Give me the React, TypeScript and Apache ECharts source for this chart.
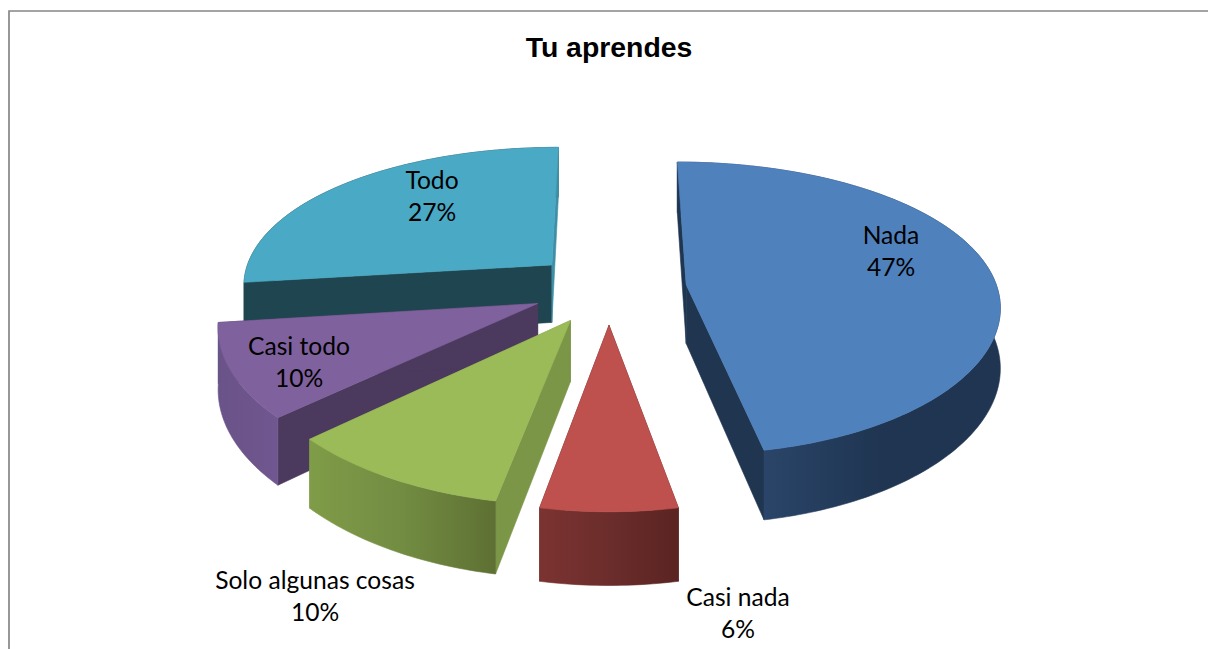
import React, { useEffect, useRef } from "react";
import * as echarts from "echarts";

const TITLE = "Tu aprendes";
const CATEGORIES = ["Nada", "Casi nada", "Solo algunas cosas", "Casi todo", "Todo"];
const PERCENTS = [47, 6, 10, 10, 27];

const TOP_COLORS = ["#4F81BD", "#BE514E", "#9BBB59", "#7F619D", "#4AA9C4"];
const START_WALL = ["#1F3550", "#5A2422", "#7C9648", "#4B3A5E", "#1F4650"];
const END_WALL = ["#1F3550", "#5A2422", "#7C9648", "#4B3A5E", "#3E8FA6"];
const OUTER_LEFT = ["#2A4569", "#7B3331", "#7F9C48", "#6A5389", "#1F4650"];
const OUTER_MID = ["#1F3551", "#6B2D2B", "#728C42", "#6D558C", "#1F4650"];
const OUTER_RIGHT = ["#1F3551", "#5A2422", "#5E7033", "#70578F", "#1F4650"];
const Z_RANK = [1, 4, 3, 2, 0];
const LABEL_X = [891, 738, 315, 299, 432];
const LABEL_Y = [250, 612, 595, 361, 195];

const CX = 609;
const VANISH_Y = -607;
const HEIGHT_TOP = 895;
const DEPTH = 59;
const RADIUS_X = 311;
const PERSPECTIVE_Y = 0.16;
const PERSPECTIVE_X = 0.13;
const EXPLODE = 0.25;

export default function App() {
  const ref = useRef<HTMLDivElement>(null);
  useEffect(() => {
    const chart = echarts.init(ref.current!, undefined, { renderer: "svg" });
    const total = PERCENTS.reduce((a, b) => a + b, 0);

    const renderItem = (params: any, api: any) => {
      const i = params.dataIndex;
      let before = 0;
      for (let k = 0; k < i; k++) before += PERCENTS[k];
      const v = api.value(0);
      const a0 = (before / total) * Math.PI * 2;
      const a1 = ((before + v) / total) * Math.PI * 2;
      const mid = (a0 + a1) / 2;
      const proj = (ang: number, r: number, level: number) => {
        const X = EXPLODE * Math.sin(mid) + r * Math.sin(ang);
        const Z = EXPLODE * Math.cos(mid) + r * Math.cos(ang);
        const wx = 1 / (1 + PERSPECTIVE_X * Z);
        const wy = 1 / (1 + PERSPECTIVE_Y * Z);
        return [CX + RADIUS_X * X * wx, VANISH_Y + (HEIGHT_TOP + level * DEPTH) * wy];
      };
      const n = Math.max(8, Math.ceil((a1 - a0) / (Math.PI / 180)));
      const rimTop: number[][] = [];
      const rimBot: number[][] = [];
      const nearX: number[] = [];
      for (let k = 0; k <= n; k++) {
        const a = a0 + ((a1 - a0) * k) / n;
        const p = proj(a, 1, 0);
        rimTop.push(p);
        rimBot.push(proj(a, 1, 1));
        if (Math.cos(a) < 0.2) nearX.push(p[0]);
      }
      const apexT = proj(0, 0, 0);
      const apexB = proj(0, 0, 1);
      const minX = Math.min(...nearX);
      const maxX = Math.max(...nearX);
      const z = Z_RANK[i] * 10;
      const wallZ = (a: number) => z + (Math.cos(a) > 0 ? 3 : 1);
      const flat = (points: number[][], fill: any, z2: number) => ({
        type: "polygon",
        z2,
        silent: true,
        shape: { points },
        style: { fill, stroke: fill, lineWidth: 0.6 },
      });
      return {
        type: "group",
        children: [
          flat([apexT, rimTop[0], rimBot[0], apexB], START_WALL[i], wallZ(a0)),
          flat([apexT, rimTop[n], rimBot[n], apexB], END_WALL[i], wallZ(a1)),
          flat(
            [...rimTop, ...rimBot.slice().reverse()],
            {
              type: "linear",
              global: true,
              x: minX,
              y: 0,
              x2: maxX,
              y2: 0,
              colorStops: [
                { offset: 0, color: OUTER_LEFT[i] },
                { offset: 0.5, color: OUTER_MID[i] },
                { offset: 1, color: OUTER_RIGHT[i] },
              ],
            },
            z + 2
          ),
          flat([apexT, ...rimTop], TOP_COLORS[i], z + 4),
          {
            type: "text",
            z2: 100,
            silent: true,
            style: {
              x: LABEL_X[i],
              y: LABEL_Y[i],
              text: `${CATEGORIES[i]}\n${v}%`,
              fill: "#000",
              font: '24.6px Lato, "Open Sans", sans-serif',
              lineHeight: 32,
              align: "center",
              verticalAlign: "middle",
            },
          },
        ],
      };
    };

    chart.setOption({
      animation: false,
      backgroundColor: "#fff",
      title: {
        text: TITLE,
        left: 604,
        top: 28,
        textAlign: "center",
        textStyle: {
          fontFamily: '"Liberation Sans", Arial, sans-serif',
          fontWeight: "bold",
          fontSize: 28.4,
          color: "#000",
        },
      },
      graphic: [
        {
          type: "polyline",
          silent: true,
          shape: { points: [[9, 649], [9, 11], [1208, 11]] },
          style: { stroke: "#868686", lineWidth: 1.7, fill: null },
        },
      ],
      series: [
        {
          type: "custom",
          coordinateSystem: "none",
          silent: true,
          renderItem,
          data: PERCENTS.map((v, i) => ({ name: CATEGORIES[i], value: [v] })),
        },
      ],
    });
    return () => chart.dispose();
  }, []);
  return (
    <div
      ref={ref}
      style={{ position: "fixed", left: 0, top: 0, width: 1208, height: 649 }}
    />
  );
}
